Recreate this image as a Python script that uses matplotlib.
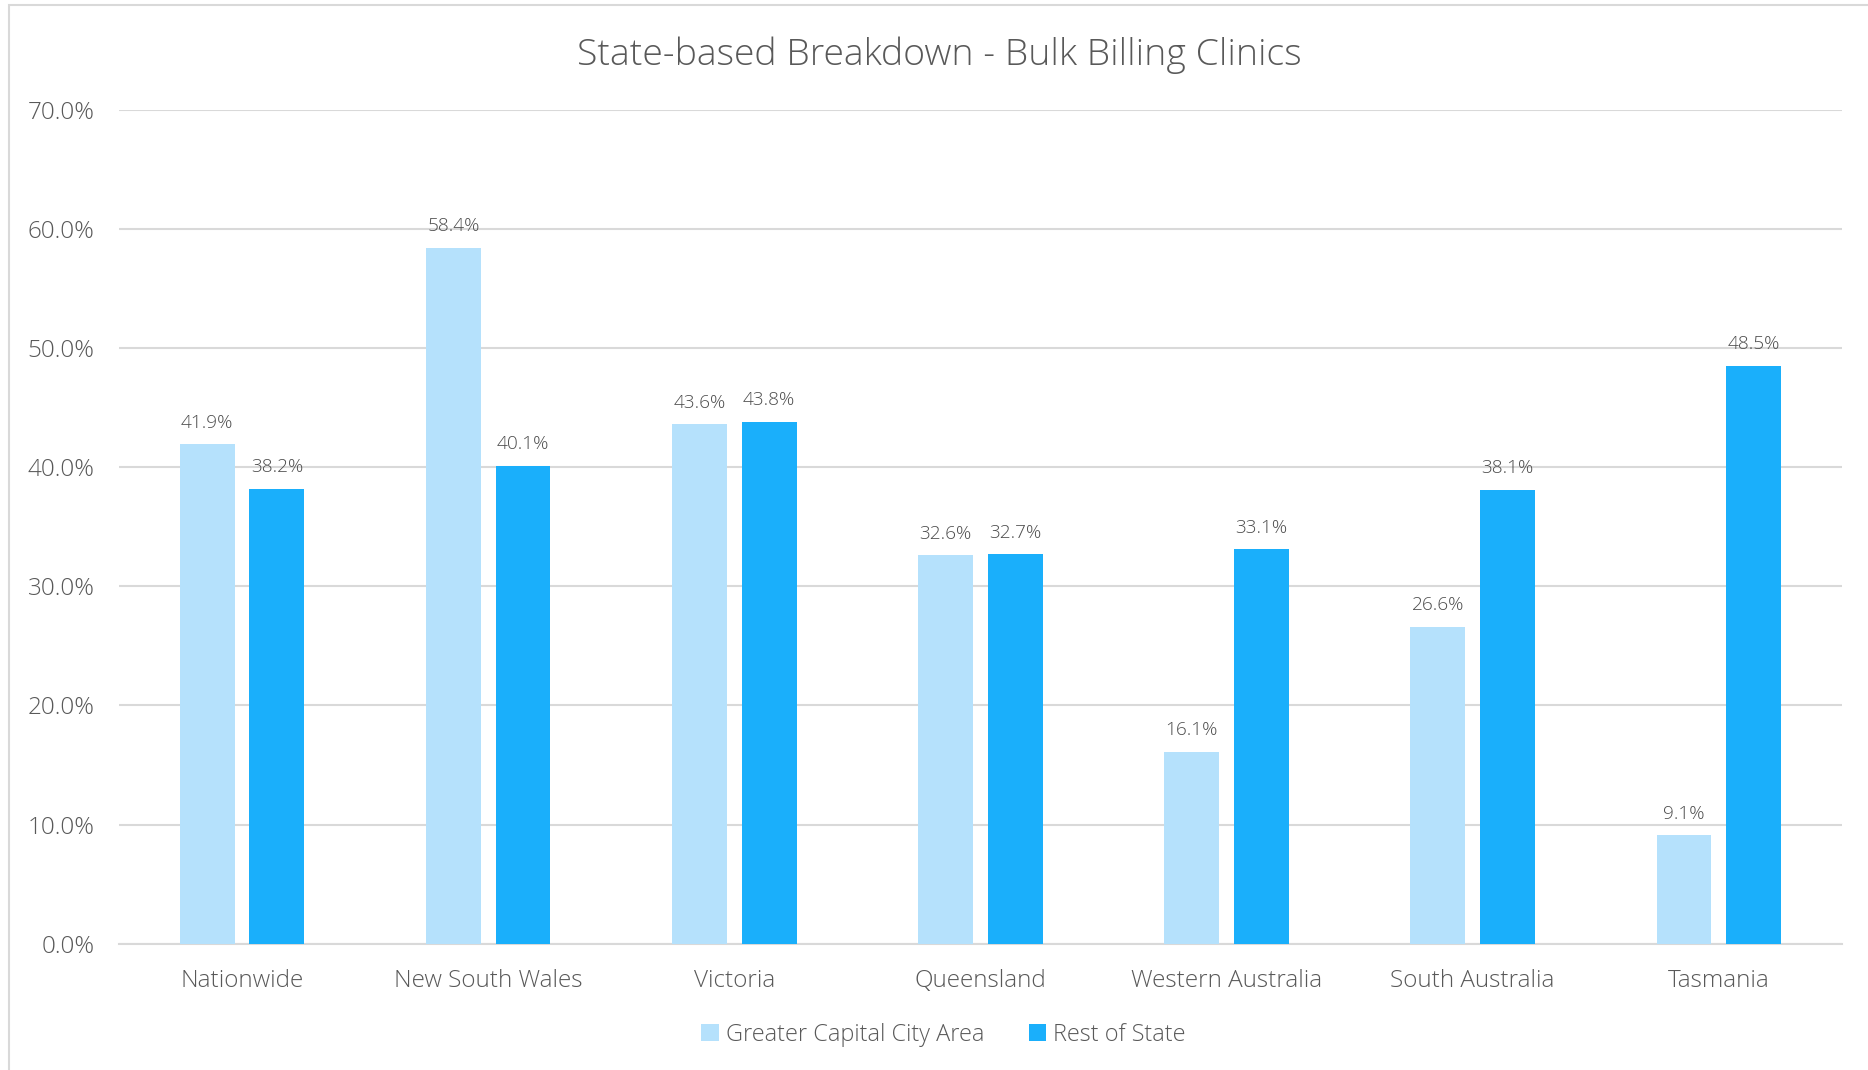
import numpy as np
import matplotlib.pyplot as plt
from matplotlib.ticker import FuncFormatter
from matplotlib.patches import Rectangle

plt.rcParams['font.family'] = ['Open Sans', 'DejaVu Sans']

# ---- data ----
categories = ["Nationwide", "New South Wales", "Victoria", "Queensland",
              "Western Australia", "South Australia", "Tasmania"]
capital = [41.9, 58.4, 43.6, 32.6, 16.1, 26.6, 9.1]
rest_of_state = [38.2, 40.1, 43.8, 32.7, 33.1, 38.1, 48.5]
series_names = ["Greater Capital City Area", "Rest of State"]

light_blue = '#B5E1FC'
dark_blue = '#1AAFFB'
text_col = '#595959'
grid_col = '#D9D9D9'

fig = plt.figure(figsize=(18.68, 10.70), dpi=100)
ax = fig.add_axes([0.0637, 0.118, 0.9223, 0.7796])

x = np.arange(len(categories))
w = 0.223
off = 0.1415
b1 = ax.bar(x - off, capital, w, color=light_blue, label=series_names[0], zorder=3)
b2 = ax.bar(x + off, rest_of_state, w, color=dark_blue, label=series_names[1], zorder=3)

for bars, vals in [(b1, capital), (b2, rest_of_state)]:
    for b, v in zip(bars, vals):
        ax.annotate(f"{v:.1f}%", (b.get_x() + b.get_width() / 2, v),
                    xytext=(0, 9), textcoords='offset points', ha='center', va='bottom',
                    fontsize=13.7, color='#4d4d4d', fontweight='light')

ax.set_ylim(0, 70)
ax.set_xlim(-0.5, len(categories) - 0.5)
ax.set_yticks(np.arange(0, 71, 10))
ax.yaxis.set_major_formatter(FuncFormatter(lambda v, p: f"{v:.1f}%"))
ax.set_xticks(x)
ax.set_xticklabels(categories)
ax.tick_params(axis='both', length=0, labelcolor=text_col)
ax.tick_params(axis='y', pad=17.5, labelsize=17.5)
ax.tick_params(axis='x', pad=18, labelsize=17.5)
for lab in ax.get_xticklabels() + ax.get_yticklabels():
    lab.set_fontweight('light')
ax.grid(axis='y', color=grid_col, linewidth=1.5, zorder=0)
for s in ['top', 'right', 'left']:
    ax.spines[s].set_visible(False)
ax.spines['bottom'].set_color(grid_col)
ax.spines['bottom'].set_linewidth(1.5)

fig.text(0.503, 0.948, "State-based Breakdown - Bulk Billing Clinics", ha='center', va='center',
         fontsize=26.9, color=text_col, fontweight='light')

leg = fig.legend(handles=[b1, b2], loc='center', bbox_to_anchor=(0.505, 0.033), ncol=2,
                 frameon=False, fontsize=16.9, handlelength=0.75, handleheight=0.75,
                 handletextpad=0.3, columnspacing=1.9)
for t in leg.get_texts():
    t.set_color(text_col)
    t.set_fontweight('light')

# chart border (left and top)
fig.add_artist(Rectangle((0.0048, -0.01), 1.2, 1.005, transform=fig.transFigure,
                         fill=False, edgecolor='#D9D9D9', linewidth=1.5))

fig.savefig('out.png', dpi=100)
